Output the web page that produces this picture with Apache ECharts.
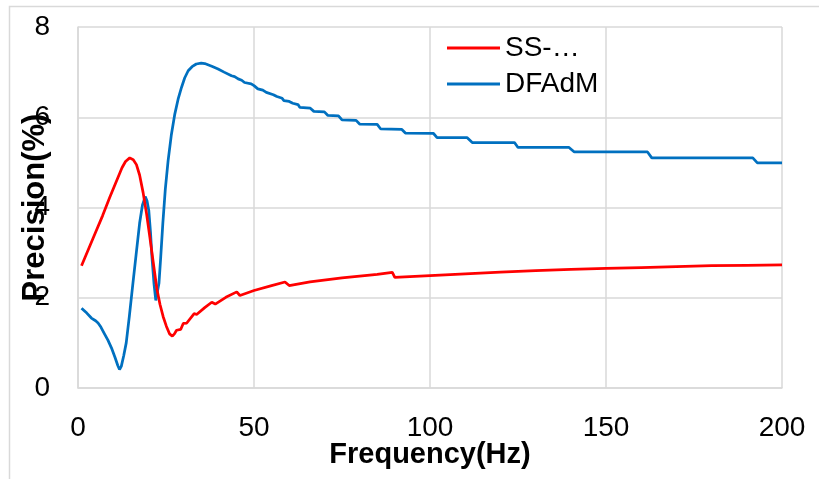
<!DOCTYPE html>
<html>
<head>
<meta charset="utf-8">
<script src="https://cdn.jsdelivr.net/npm/echarts@6/dist/echarts.min.js"></script>
<style>
  html, body { margin: 0; padding: 0; background: #fff; }
  #chart { width: 819px; height: 479px; }
</style>
</head>
<body>
<div id="chart"></div>
<script>
// ---- Data ----
const seriesNames = ['SS-…', 'DFAdM'];
const xTicks = [0, 50, 100, 150, 200];
const yTicks = [0, 2, 4, 6, 8];

const ssFreq = [1, 3, 5, 7, 9, 11, 12.5, 13.5, 14.7, 15.7, 16.6, 17.5, 18.5, 19.5, 20.4, 21.4, 22.4, 23.3, 24.2, 25.1, 26, 26.8, 27.4, 28, 29.2, 29.9, 30.9, 33.0, 33.7, 36, 38.0, 39.0, 42, 45.1, 46.0, 50, 55, 58.8, 60.0, 65.9, 75, 85, 89.3, 90, 100, 110, 120, 130, 140, 150, 160, 170, 180, 190, 200];
const ssValues = [2.71, 3.08, 3.45, 3.82, 4.22, 4.60, 4.88, 5.02, 5.10, 5.06, 4.95, 4.72, 4.33, 3.85, 3.35, 2.77, 2.20, 1.85, 1.58, 1.37, 1.20, 1.15, 1.20, 1.28, 1.30, 1.43, 1.44, 1.65, 1.63, 1.78, 1.90, 1.86, 2.01, 2.13, 2.05, 2.16, 2.27, 2.35, 2.27, 2.35, 2.44, 2.52, 2.56, 2.45, 2.49, 2.53, 2.57, 2.60, 2.63, 2.65, 2.67, 2.69, 2.71, 2.72, 2.73];

const dfFreq = [1, 2.5, 3.8, 5, 5.7, 6.5, 7.6, 8.5, 9.5, 10.5, 11.3, 11.8, 12.3, 13, 13.7, 14.6, 15.6, 16.5, 17.5, 18.3, 19.1, 19.6, 20.1, 20.6, 21, 21.6, 22.1, 22.5, 23, 23.5, 24.1, 24.8, 25.6, 26.5, 27.5, 28.5, 29.4, 30.3, 31.3, 32.4, 33.6, 35, 36, 38, 39.8, 41.5, 43.6, 44.5, 45.5, 46.5, 47.3, 49.2, 50, 51.1, 52.5, 53.5, 55.5, 56.5, 58, 58.5, 60, 61, 62.5, 63, 66, 67, 70, 71, 74, 75, 79, 80, 85, 86, 92, 93, 101, 102, 110.5, 112, 124, 125, 139.5, 141, 161.8, 163, 191.7, 193, 200];
const dfValues = [1.77, 1.66, 1.55, 1.49, 1.44, 1.35, 1.19, 1.06, 0.89, 0.68, 0.50, 0.41, 0.48, 0.72, 1.00, 1.60, 2.32, 2.95, 3.65, 4.05, 4.24, 4.15, 3.94, 3.45, 2.91, 2.30, 1.94, 1.98, 2.32, 2.90, 3.65, 4.40, 5.04, 5.60, 6.07, 6.42, 6.66, 6.87, 7.03, 7.12, 7.18, 7.20, 7.19, 7.13, 7.07, 7.00, 6.92, 6.90, 6.85, 6.82, 6.77, 6.74, 6.70, 6.63, 6.60, 6.55, 6.50, 6.46, 6.42, 6.37, 6.35, 6.31, 6.28, 6.22, 6.20, 6.13, 6.12, 6.04, 6.03, 5.94, 5.93, 5.85, 5.84, 5.74, 5.73, 5.65, 5.64, 5.55, 5.55, 5.44, 5.44, 5.33, 5.33, 5.23, 5.23, 5.10, 5.10, 4.99, 4.99];

const colors = ['#ff0000', '#0070c0'];
const FONT = "'Liberation Sans', Arial, sans-serif";

function pairs(xs, ys) { return xs.map((x, i) => [x, ys[i]]); }

const chart = echarts.init(document.getElementById('chart'), null, { renderer: 'canvas' });
const gridColor = '#d9d9d9';

chart.setOption({
  animation: false,
  backgroundColor: '#ffffff',
  textStyle: { fontFamily: FONT },
  graphic: [{
    type: 'rect', left: 7, top: 4, z: -1, silent: true,
    shape: { width: 830, height: 500 },
    style: { fill: 'none', stroke: gridColor, lineWidth: 1.5 }
  }],
  grid: { left: 78, right: 37, top: 27, bottom: 91, containLabel: false, outerBoundsMode: 'none' },
  legend: {
    orient: 'vertical', left: 447, top: 34, padding: 0,
    icon: 'rect', itemWidth: 53, itemHeight: 3, itemGap: 8,
    textStyle: { fontSize: 28, color: '#000', fontFamily: FONT },
    data: seriesNames
  },
  xAxis: {
    type: 'value', min: xTicks[0], max: xTicks[xTicks.length - 1], interval: 50,
    name: 'Frequency(Hz)', nameLocation: 'middle', nameGap: 52, nameMoveOverlap: false,
    nameTextStyle: { fontSize: 29, fontWeight: 'bold', color: '#000', fontFamily: FONT },
    axisLine: { show: true, lineStyle: { color: gridColor, width: 1.5 } },
    axisTick: { show: false },
    axisLabel: { fontSize: 28, color: '#000', margin: 26, fontFamily: FONT },
    splitLine: { show: true, lineStyle: { color: gridColor, width: 1.5 } }
  },
  yAxis: {
    type: 'value', min: yTicks[0], max: yTicks[yTicks.length - 1], interval: 2,
    name: 'Precision(%)', nameLocation: 'middle', nameGap: 27, nameMoveOverlap: false,
    nameTextStyle: { fontSize: 31, fontWeight: 'bold', color: '#000', fontFamily: FONT },
    axisLine: { show: true, lineStyle: { color: gridColor, width: 1.5 } },
    axisTick: { show: false },
    axisLabel: { fontSize: 28, color: '#000', margin: 28, fontFamily: FONT },
    splitLine: { show: true, lineStyle: { color: gridColor, width: 1.5 } }
  },
  series: [
    {
      name: seriesNames[0], type: 'line', data: pairs(ssFreq, ssValues),
      symbol: 'none', color: colors[0], lineStyle: { width: 2.75, color: colors[0] }, z: 3
    },
    {
      name: seriesNames[1], type: 'line', data: pairs(dfFreq, dfValues),
      symbol: 'none', color: colors[1], lineStyle: { width: 2.75, color: colors[1] }, z: 2
    }
  ]
});
</script>
</body>
</html>
